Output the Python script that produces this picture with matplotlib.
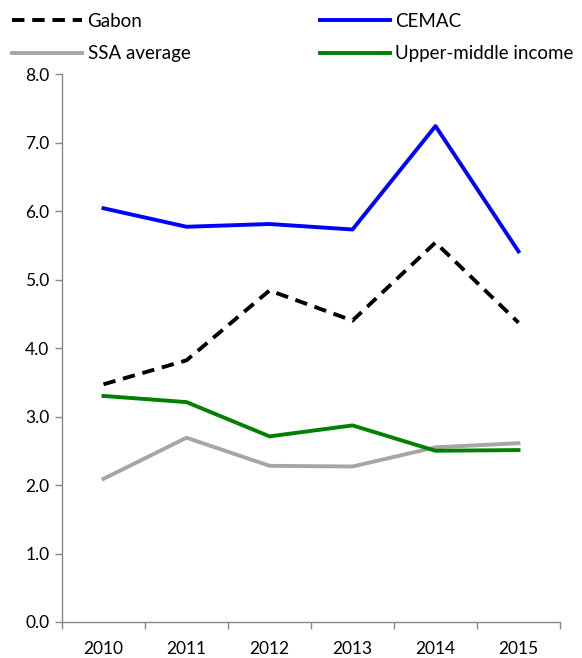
import matplotlib.pyplot as plt
import numpy as np

plt.rcParams['font.family'] = ['Lato', 'DejaVu Sans']

years = ['2010', '2011', '2012', '2013', '2014', '2015']
gabon = [3.47, 3.82, 4.84, 4.40, 5.54, 4.37]
cemac = [6.04, 5.77, 5.81, 5.73, 7.24, 5.41]
ssa = [2.09, 2.69, 2.28, 2.27, 2.55, 2.61]
umi = [3.30, 3.21, 2.71, 2.87, 2.50, 2.51]
yticks = np.arange(0, 8.01, 1.0)

fig = plt.figure(figsize=(5.82, 6.58), dpi=100)
ax = fig.add_axes([62/582, 1-622/658, (560-62)/582, (622-74)/658])

x = np.arange(len(years))
lw = 2.8
l1, = ax.plot(x, gabon, color='black', lw=lw, dashes=(3.2, 2.0), label='Gabon')
l2, = ax.plot(x, cemac, color='#0000ff', lw=lw, label='CEMAC')
l3, = ax.plot(x, ssa, color='#a6a6a6', lw=lw, label='SSA average')
l4, = ax.plot(x, umi, color='#008000', lw=lw, label='Upper-middle income')

ax.set_xlim(-0.5, len(years) - 0.5)
ax.set_ylim(0, 8)
ax.set_yticks(yticks)
ax.set_yticklabels([f'{v:.1f}' for v in yticks])
ax.set_xticks(x)
ax.set_xticklabels(years)
ax.set_xticks(np.arange(-0.5, len(years)), minor=True)
ax.tick_params(axis='x', which='major', length=0, pad=14, labelsize=12.5)
ax.tick_params(axis='x', which='minor', length=5, color='#888888', width=1)
ax.tick_params(axis='y', length=5, color='#888888', width=1, labelsize=12.5, pad=4)

for s in ['top', 'right']:
    ax.spines[s].set_visible(False)
for s in ['left', 'bottom']:
    ax.spines[s].set_color('#888888')
    ax.spines[s].set_linewidth(1)

# legend fills column-wise, so order gives Gabon/CEMAC on row 1
fig.legend([l1, l3, l2, l4], ['Gabon', 'SSA average', 'CEMAC', 'Upper-middle income'],
           loc='upper left', bbox_to_anchor=(12/582, 1-13/658), ncol=2, frameon=False,
           fontsize=13.5, handlelength=3.73, handletextpad=0.3, columnspacing=6.9,
           labelspacing=0.82, borderaxespad=0, borderpad=0)

fig.savefig('out.png', dpi=100)
